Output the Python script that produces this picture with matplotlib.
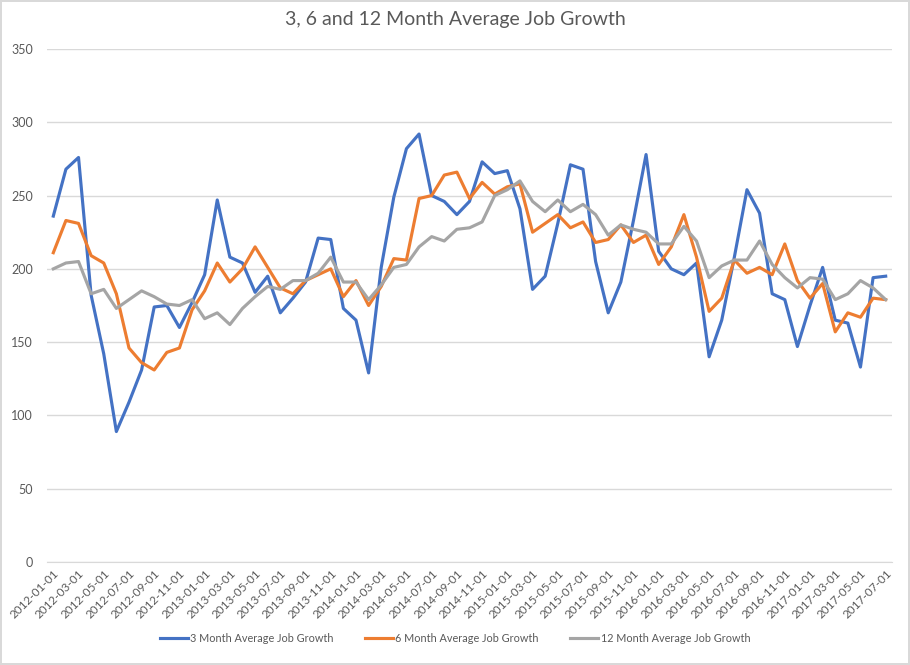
import matplotlib
matplotlib.use("Agg")
import matplotlib.pyplot as plt
import numpy as np
import pandas as pd

# Monthly categories 2012-01 .. 2017-07
months = pd.date_range("2012-01-01", "2017-07-01", freq="MS").strftime("%Y-%m-%d").tolist()

three_month = [236, 268, 276, 182, 142, 89, 109, 131, 174, 175, 160, 177, 196, 247, 208,
               204, 184, 195, 170, 180, 191, 221, 220, 173, 165, 129, 201, 249, 282, 292,
               250, 246, 237, 246, 273, 265, 267, 241, 186, 195, 231, 271, 268, 205, 170,
               191, 233, 278, 212, 200, 196, 204, 140, 165, 208, 254, 238, 183, 179, 147,
               175, 201, 165, 163, 133, 194, 195]

six_month = [211, 233, 231, 209, 204, 183, 146, 136, 131, 143, 146, 172, 185, 204, 191,
             200, 215, 201, 187, 183, 192, 196, 200, 181, 192, 175, 188, 207, 206, 248,
             250, 264, 266, 248, 259, 251, 256, 258, 225, 231, 237, 228, 232, 218, 220,
             230, 218, 223, 203, 215, 237, 208, 171, 180, 206, 197, 201, 196, 217, 192,
             180, 190, 157, 170, 167, 180, 179]

twelve_month = [200, 204, 205, 183, 186, 173, 179, 185, 181, 176, 175, 179, 166, 170, 162,
                173, 181, 188, 186, 192, 192, 197, 208, 191, 191, 179, 189, 201, 203, 215,
                222, 219, 227, 228, 232, 250, 254, 260, 246, 239, 247, 239, 244, 237, 223,
                230, 227, 225, 217, 217, 229, 219, 194, 202, 206, 206, 219, 203, 194, 187,
                194, 193, 179, 183, 192, 187, 179]

series_names = ["3 Month Average Job Growth", "6 Month Average Job Growth", "12 Month Average Job Growth"]
colors = ["#4472C4", "#ED7D31", "#A5A5A5"]

plt.rcParams['font.family'] = ['Lato', 'DejaVu Sans']

fig = plt.figure(figsize=(9.1, 6.65), dpi=100)
fig.patch.set_edgecolor("#d9d9d9")
fig.patch.set_linewidth(1.5)
ax = fig.add_axes([47 / 910, 1 - 562 / 665, (892 - 47) / 910, (562 - 49) / 665])

x = np.arange(len(months))
for vals, name, col in zip([three_month, six_month, twelve_month], series_names, colors):
    ax.plot(x, vals, color=col, linewidth=2.25, label=name, solid_joinstyle="round")

ax.set_xlim(-0.5, len(months) - 0.5)
ax.set_ylim(0, 350)
ax.set_yticks(np.arange(0, 351, 50))
ax.set_xticks(x[::2])
ax.set_xticklabels(months[::2], rotation=45, ha="right", va="top", rotation_mode="anchor",
                   fontsize=8.5)
ax.tick_params(axis="both", length=0, labelcolor="#595959")
ax.tick_params(axis="y", pad=10, labelsize=9)
ax.tick_params(axis="x", pad=4)
ax.grid(axis="y", color="#d9d9d9", linewidth=1)
ax.set_axisbelow(True)
for s in ["top", "right", "left"]:
    ax.spines[s].set_visible(False)
ax.spines["bottom"].set_color("#d9d9d9")

fig.text(0.5, 1 - 20 / 665, "3, 6 and 12 Month Average Job Growth", ha="center", va="center",
         fontsize=14, color="#595959")

fig.legend(loc="center", bbox_to_anchor=(0.5, 1 - 638 / 665), ncol=3, frameon=False,
           fontsize=7.8, labelcolor="#595959", handlelength=2.6, handletextpad=0.2,
           columnspacing=2.9)

fig.savefig("out.png", dpi=100)
